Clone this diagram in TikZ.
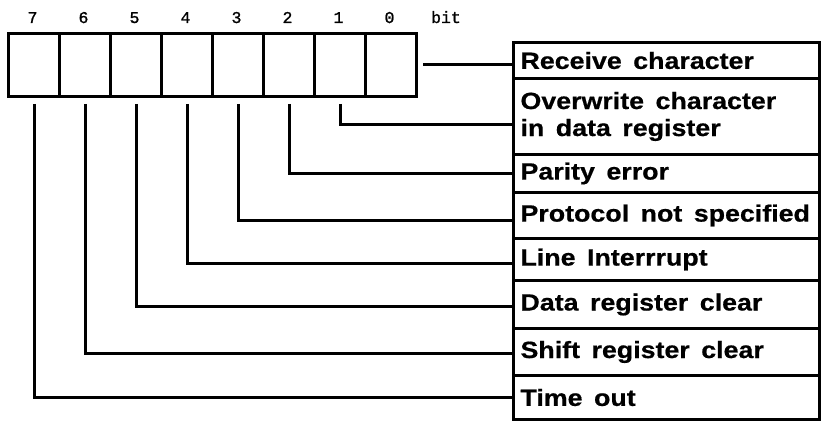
\documentclass[tikz,border=0pt]{standalone}
\usepackage{fontspec}
\newfontfamily\labfont{Liberation Sans}[FakeStretch=1.14,
  BoldFeatures={FakeStretch=1.14, FakeBold=0.6}]
\newfontfamily\numfont{Liberation Mono}[FakeBold=1.2]
\newcommand\labstyle{\labfont\bfseries\fontsize{23.5}{27}\selectfont}
\newcommand\wsp{\hspace*{11.5pt}}
\begin{document}
\begin{tikzpicture}[x=1pt,y=-1pt, line width=3pt,
  cell/.style={draw, minimum width=51pt, minimum height=63pt, inner sep=0pt, anchor=north west},
  row/.style={draw, anchor=north west, minimum width=306pt, text width=292pt, align=left,
    inner xsep=7pt, inner ysep=0pt, font=\labstyle},
  num/.style={font=\numfont\fontsize{16.5}{16.5}\selectfont, inner sep=0pt, anchor=base},
  conn/.style={line width=3pt}]
\useasboundingbox (0,0) rectangle (822,422);
% register cells
\foreach \i [evaluate=\i as \k using int(7-\i)] in {0,...,7}{
  \node[cell] (c\i) at ({7+51*\k},32) {};
  \node[num] (d\i) at ({32.5+51*\k},23) {\i};
}
\node[num] (bitlbl) at (446,23) {bit};
% label rows
\node[row, minimum height=36pt] (r0) at (512,41) {Receive\wsp character};
\node[row, minimum height=76pt] (r1) at (512,77) {Overwrite\wsp character\\in\wsp data\wsp register};
\node[row, minimum height=38pt] (r2) at (512,153) {Parity\wsp error};
\node[row, minimum height=46pt] (r3) at (512,191) {Protocol\wsp not\wsp specified};
\node[row, minimum height=42pt] (r4) at (512,237) {Line\wsp Interrrupt};
\node[row, minimum height=48pt] (r5) at (512,279) {Data\wsp register\wsp clear};
\node[row, minimum height=47pt] (r6) at (512,327) {Shift\wsp register\wsp clear};
\node[row, minimum height=44pt] (r7) at (512,374) {Time\wsp out};
% connectors
\draw[conn] ([xshift=5pt]c0.east) -- (r0.west |- c0.east);
\draw[conn] ([yshift=-6pt]c1.south) |- ([yshift=-8pt]r1.west);
\draw[conn] ([yshift=-6pt]c2.south) |- (r2.west);
\draw[conn] ([yshift=-6pt]c3.south) |- ([yshift=-5pt]r3.west);
\draw[conn] ([yshift=-6pt]c4.south) |- ([yshift=-4pt]r4.west);
\draw[conn] ([yshift=-6pt]c5.south) |- ([yshift=-2pt]r5.west);
\draw[conn] ([yshift=-6pt]c6.south) |- ([yshift=-1pt]r6.west);
\draw[conn] ([yshift=-6pt]c7.south) |- (r7.west);
\end{tikzpicture}
\end{document}
